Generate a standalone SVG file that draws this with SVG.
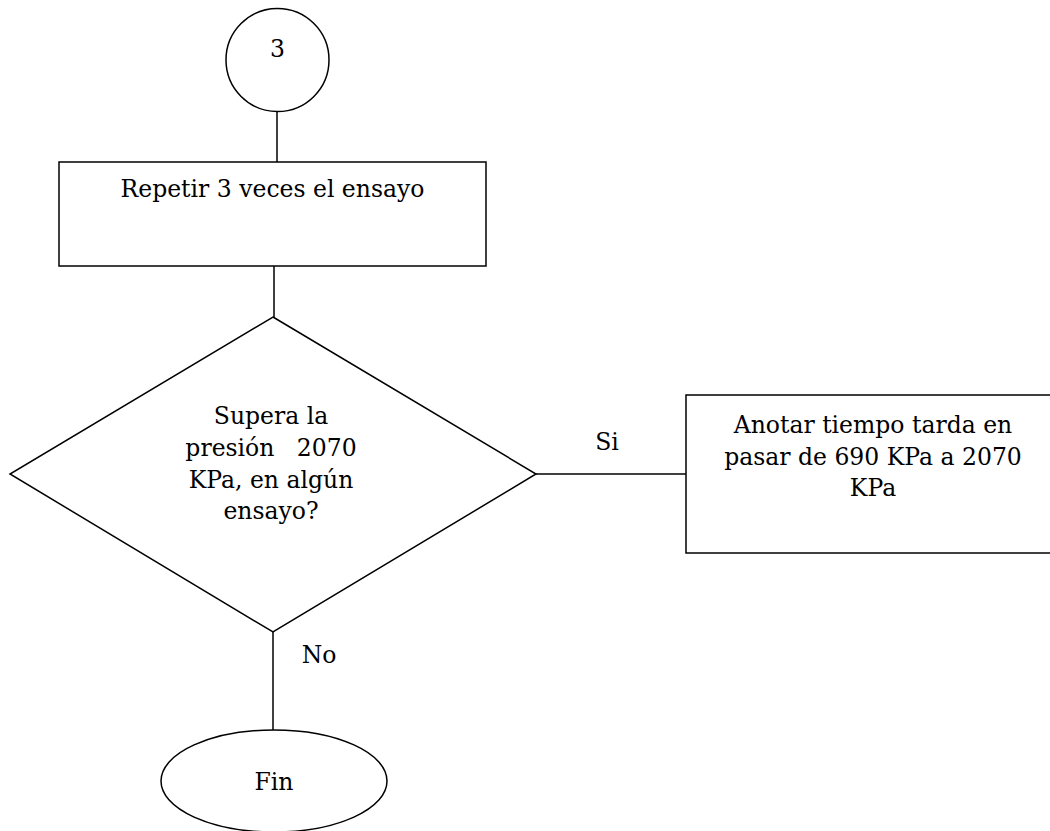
<svg xmlns="http://www.w3.org/2000/svg" width="1050" height="831" viewBox="0 0 1050 831">
<style>
.s{fill:#fff;stroke:#000;stroke-width:1.5}
.c{fill:none;stroke:#000;stroke-width:1.5}
text{font-family:"DejaVu Serif","Liberation Serif",serif;font-size:23.5px;fill:#000;text-anchor:middle}
</style>
<rect width="1050" height="831" fill="#fff"/>
<g id="connectors">
<line class="c" x1="277" y1="112" x2="277" y2="162"/>
<line class="c" x1="274" y1="266" x2="274" y2="317"/>
<line class="c" x1="536" y1="474" x2="686" y2="474"/>
<line class="c" x1="273" y1="632" x2="273" y2="730"/>
<text x="607" y="450">Si</text>
<text x="319" y="663">No</text>
</g>
<g id="start">
<circle class="s" cx="277.5" cy="60" r="51.5"/>
<text x="277.5" y="57">3</text>
</g>
<g id="repetir">
<rect class="s" x="59" y="162" width="427" height="104"/>
<text x="272.5" y="197">Repetir 3 veces el ensayo</text>
</g>
<g id="decision">
<polygon class="s" points="273,317 536,474 273,632 10,474"/>
<text x="271" y="424">Supera la</text>
<text x="271" y="456" xml:space="preserve">presión   2070</text>
<text x="271" y="488">KPa, en algún</text>
<text x="271" y="519">ensayo?</text>
</g>
<g id="anotar">
<rect class="s" x="686" y="395" width="374" height="158"/>
<text x="873" y="433">Anotar tiempo tarda en</text>
<text x="873" y="465">pasar de 690 KPa a 2070</text>
<text x="873" y="496">KPa</text>
</g>
<g id="fin">
<ellipse class="s" cx="274" cy="781" rx="113" ry="51"/>
<text x="274" y="790">Fin</text>
</g>
</svg>
